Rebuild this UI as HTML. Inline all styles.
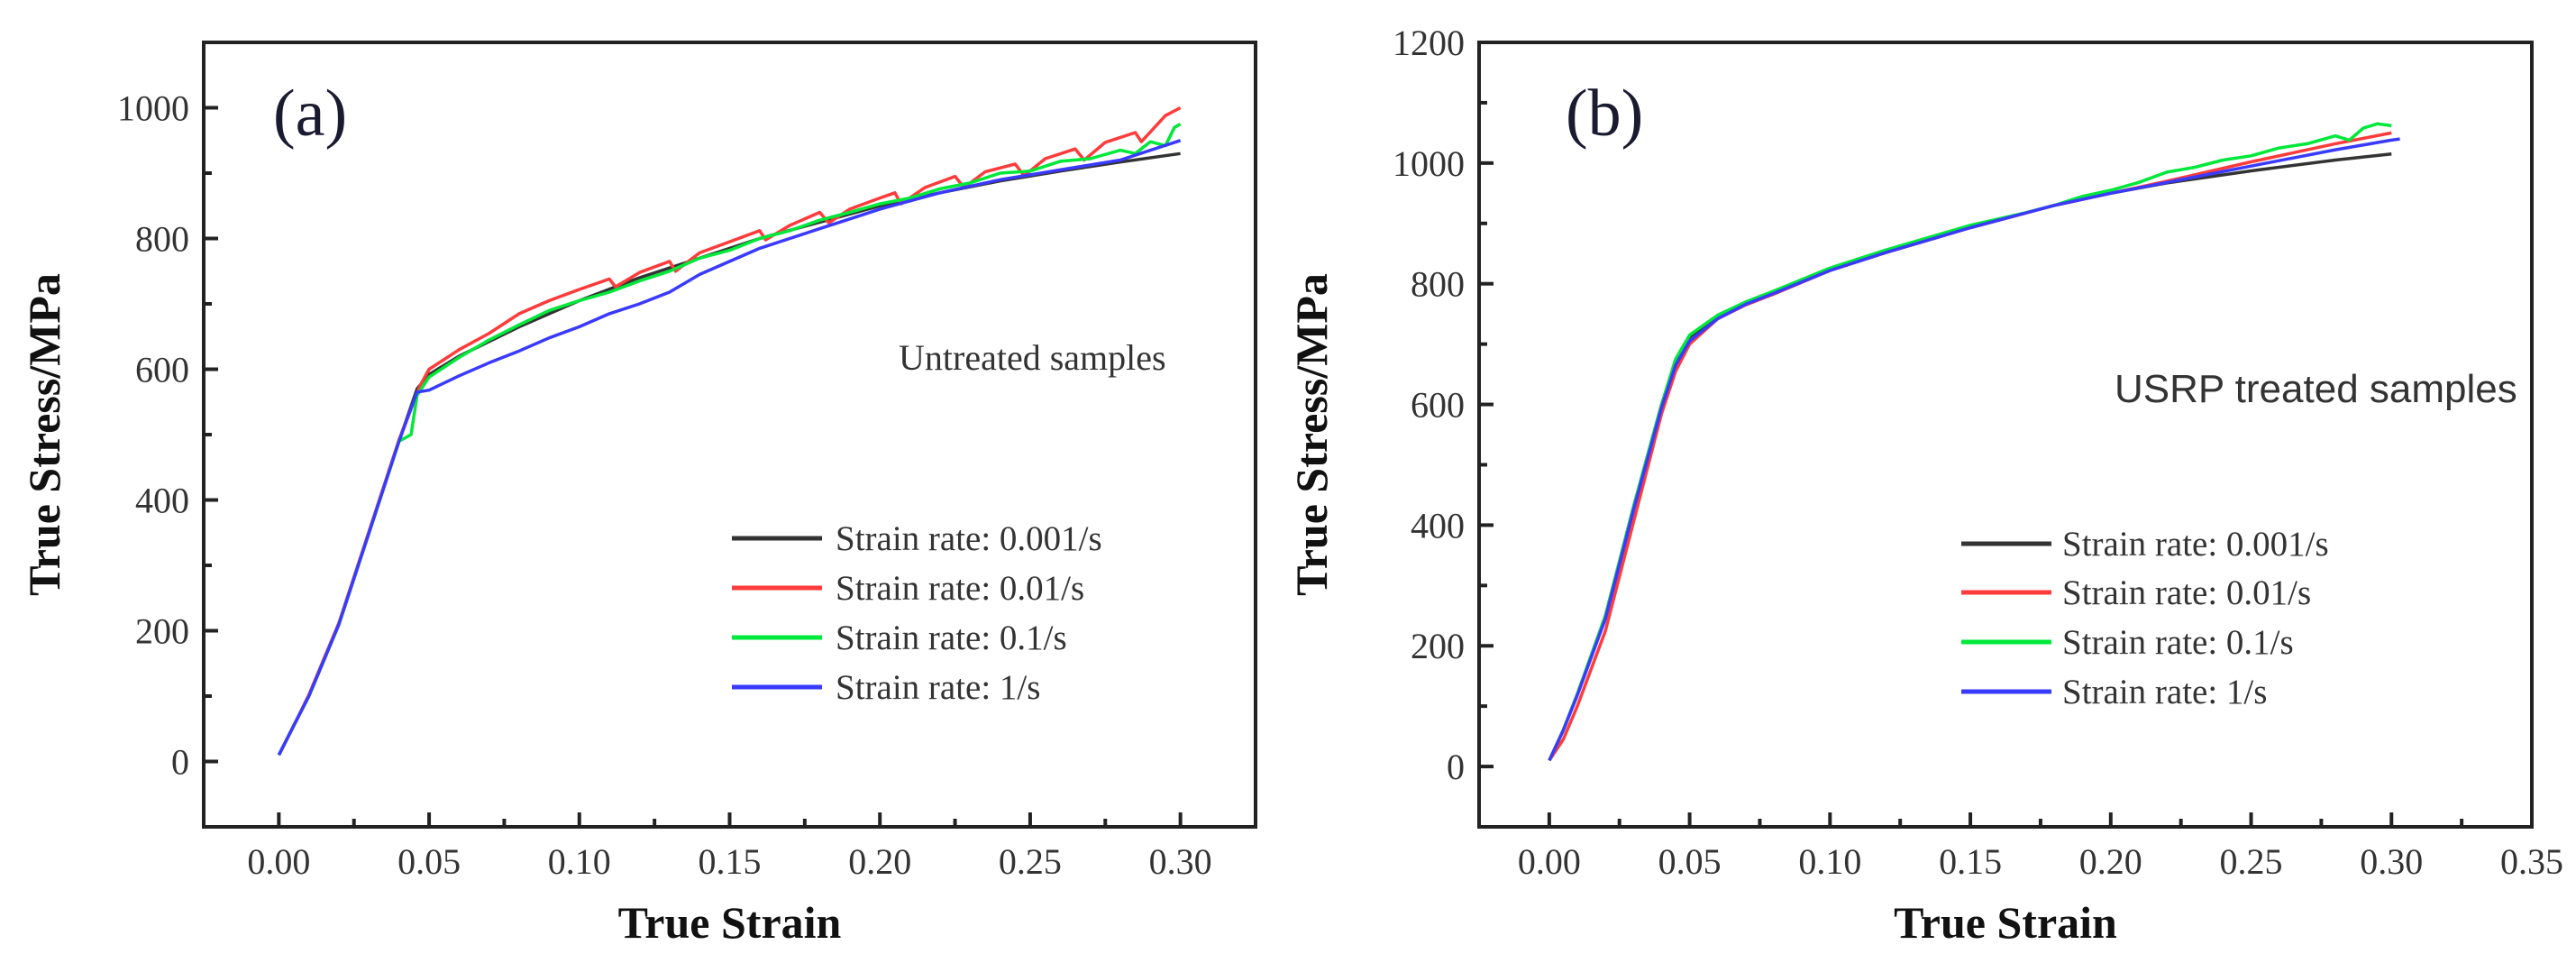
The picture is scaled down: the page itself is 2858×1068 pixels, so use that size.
<!DOCTYPE html>
<html><head><meta charset="utf-8"><style>
html,body{margin:0;padding:0;background:#fff;}
svg{display:block;}
</style></head><body>
<svg id="chart" width="2858" height="1068" viewBox="0 0 2858 1068" xmlns="http://www.w3.org/2000/svg"></svg>
<script>
// ---- Panel (a) data: untreated ----
const aBlackX=[0,0.005,0.01,0.02,0.03,0.04,0.046,0.05,0.06,0.08,0.10,0.12,0.14,0.16,0.18,0.20,0.22,0.24,0.26,0.28,0.30];
const aBlackY=[10,55,100,210,350,490,570,592,620,665,705,740,770,800,825,850,870,888,903,917,930];
const aRedX=[0,0.005,0.01,0.02,0.03,0.04,0.047,0.05,0.06,0.07,0.08,0.09,0.10,0.11,0.112,0.12,0.13,0.132,0.14,0.15,0.16,0.162,0.17,0.18,0.183,0.19,0.20,0.205,0.207,0.215,0.225,0.228,0.235,0.245,0.248,0.255,0.265,0.268,0.275,0.285,0.287,0.295,0.30];
const aRedY=[10,55,102,212,352,492,575,600,630,655,685,705,722,738,726,748,765,750,778,795,812,798,820,840,824,845,862,870,853,878,895,878,902,914,896,922,937,920,947,962,948,988,1000];
const aGreenX=[0,0.005,0.01,0.02,0.03,0.04,0.044,0.046,0.05,0.06,0.07,0.08,0.09,0.10,0.11,0.12,0.13,0.14,0.15,0.16,0.17,0.18,0.19,0.20,0.21,0.22,0.23,0.24,0.25,0.26,0.27,0.28,0.285,0.29,0.295,0.298,0.30];
const aGreenY=[10,55,100,210,350,490,500,560,588,618,645,668,690,705,718,735,750,770,782,800,812,828,840,853,862,876,885,900,903,918,922,935,930,948,942,970,975];
const aBlueX=[0,0.005,0.01,0.02,0.03,0.04,0.046,0.05,0.06,0.07,0.08,0.09,0.10,0.11,0.12,0.13,0.14,0.15,0.16,0.17,0.18,0.19,0.20,0.22,0.24,0.26,0.28,0.30];
const aBlueY=[10,55,100,210,350,490,565,568,590,610,628,648,665,685,700,718,745,765,785,800,815,830,845,870,890,905,920,950];
// ---- Panel (b) data: USRP treated ----
const bBlackX=[0,0.005,0.01,0.02,0.03,0.04,0.045,0.05,0.06,0.07,0.08,0.10,0.12,0.15,0.18,0.20,0.22,0.25,0.28,0.30];
const bBlackY=[10,60,120,250,430,600,670,712,745,768,785,822,852,893,930,950,967,987,1005,1015];
const bRedX=[0,0.005,0.01,0.02,0.03,0.04,0.045,0.05,0.06,0.07,0.08,0.10,0.12,0.15,0.18,0.20,0.22,0.25,0.28,0.30];
const bRedY=[10,45,100,225,405,585,655,700,742,765,783,822,852,893,930,950,970,1002,1032,1050];
const bGreenX=[0,0.005,0.01,0.02,0.03,0.04,0.045,0.05,0.06,0.07,0.08,0.10,0.12,0.15,0.17,0.18,0.19,0.20,0.21,0.22,0.23,0.24,0.25,0.26,0.27,0.28,0.285,0.29,0.295,0.30];
const bGreenY=[10,60,120,250,430,600,675,715,748,770,788,826,856,897,918,930,945,955,968,985,993,1005,1012,1025,1032,1045,1038,1058,1065,1062];
const bBlueX=[0,0.005,0.01,0.02,0.03,0.04,0.045,0.05,0.06,0.07,0.08,0.10,0.12,0.15,0.18,0.20,0.22,0.25,0.28,0.30,0.303];
const bBlueY=[10,60,118,245,425,595,665,705,742,766,784,822,852,893,930,950,968,995,1022,1038,1040];
const seriesLabels=["Strain rate: 0.001/s","Strain rate: 0.01/s","Strain rate: 0.1/s","Strain rate: 1/s"];
const aXTicks=[0,0.05,0.10,0.15,0.20,0.25,0.30];
const bXTicks=[0,0.05,0.10,0.15,0.20,0.25,0.30,0.35];
const aYTicks=[0,200,400,600,800,1000];
const bYTicks=[0,200,400,600,800,1000,1200];

const NS="http://www.w3.org/2000/svg";
const svg=document.getElementById('chart');
function mk(tag,attrs,parent){const e=document.createElementNS(NS,tag);for(const k in attrs)e.setAttribute(k,attrs[k]);(parent||svg).appendChild(e);return e;}
const colors=["#333333","#ff3b3b","#00e83a","#3a3aff"];

function panel(cfg){
  const g=mk('g',{});
  
  
  const X=v=>cfg.L+(v-cfg.xmin)/(cfg.xmax-cfg.xmin)*(cfg.R-cfg.L);
  const Y=v=>cfg.B-(v-cfg.ymin)/(cfg.ymax-cfg.ymin)*(cfg.B-cfg.T);
  cfg.series.forEach((s,i)=>{
    const d=s.x.map((v,j)=>(j?'L':'M')+X(v).toFixed(1)+' '+Y(s.y[j]).toFixed(1)).join(' ');
    const p=mk('path',{d:d,fill:'none',stroke:colors[i],'stroke-width':3.5,'stroke-linejoin':'round'},g);
    
    
  });
  const fr=mk('rect',{x:cfg.L,y:cfg.T,width:cfg.R-cfg.L,height:cfg.B-cfg.T,fill:'none',stroke:'#222','stroke-width':4},g);
  
  
  for(let k=0;k<cfg.xticks.length;k++){
    const v=cfg.xticks[k];
    mk('line',{x1:X(v),x2:X(v),y1:cfg.B,y2:cfg.B-16,stroke:'#222','stroke-width':4},g);
    const m=v+0.025;if(m<cfg.xmax)mk('line',{x1:X(m),x2:X(m),y1:cfg.B,y2:cfg.B-9,stroke:'#222','stroke-width':4},g);
    const t=mk('text',{x:X(v),y:cfg.B+52,'text-anchor':'middle','font-family':'Liberation Serif, serif','font-size':40,fill:'#333'},g);
    t.textContent=v.toFixed(2);
    
    
  }
  for(let k=0;k<cfg.yticks.length;k++){
    const v=cfg.yticks[k];
    mk('line',{x1:cfg.L,x2:cfg.L+16,y1:Y(v),y2:Y(v),stroke:'#222','stroke-width':4},g);
    const m=v+100;if(m<cfg.ymax)mk('line',{x1:cfg.L,x2:cfg.L+9,y1:Y(m),y2:Y(m),stroke:'#222','stroke-width':4},g);
    const t=mk('text',{x:cfg.L-16,y:Y(v)+14,'text-anchor':'end','font-family':'Liberation Serif, serif','font-size':40,fill:'#333'},g);
    t.textContent=String(v);
    
    
  }
  const xt=mk('text',{x:(cfg.L+cfg.R)/2,y:1040,'text-anchor':'middle','font-family':'Liberation Serif, serif','font-size':50,'font-weight':'bold',fill:'#111'},g);
  xt.textContent='True Strain';
  
  
  const yt=mk('text',{x:0,y:0,transform:`translate(${cfg.ytx},${(cfg.T+cfg.B)/2}) rotate(-90)`,'text-anchor':'middle','font-family':'Liberation Serif, serif','font-size':50,'font-weight':'bold',fill:'#111'},g);
  yt.textContent='True Stress/MPa';
  
  
  const pl=mk('text',{x:cfg.plx,y:150,'font-family':'Liberation Serif, serif','font-size':74,fill:'#1a1a30'},g);
  pl.textContent=cfg.label;
  
  
  const an=mk('text',{x:cfg.anx,y:cfg.any,'font-family':cfg.anFont,'font-size':cfg.anSize,fill:'#333'},g);
  an.textContent=cfg.anText;
  
  
  const lg=mk('g',{},g);
  
  
  seriesLabels.forEach((lab,i)=>{
    const y=cfg.legY[i];
    const e=mk('g',{},lg);
    
    
    mk('line',{x1:cfg.legL1,x2:cfg.legL2,y1:y,y2:y,stroke:colors[i],'stroke-width':5},e);
    const t=mk('text',{x:cfg.legT,y:y+13,'font-family':'Liberation Serif, serif','font-size':39,fill:'#333'},e);
    t.textContent=lab;
  });
}

panel({name:'panel-a-untreated',L:226,R:1393,T:47,B:917,xmin:-0.025,xmax:0.325,ymin:-100,ymax:1100,
  xticks:aXTicks,yticks:aYTicks,ytx:66,plx:303,label:'(a)',
  anx:997,any:410,anFont:'Liberation Serif, serif',anSize:40,anText:'Untreated samples',
  legY:[597,652,707,762],legL1:812,legL2:912,legT:927,
  series:[{x:aBlackX,y:aBlackY},{x:aRedX,y:aRedY},{x:aGreenX,y:aGreenY},{x:aBlueX,y:aBlueY}]});
panel({name:'panel-b-usrp-treated',L:1641,R:2809,T:47,B:917,xmin:-0.025,xmax:0.35,ymin:-100,ymax:1200,
  xticks:bXTicks,yticks:bYTicks,ytx:1472,plx:1737,label:'(b)',
  anx:2346,any:446,anFont:'Liberation Sans, sans-serif',anSize:44,anText:'USRP treated samples',
  legY:[603,657,712,767],legL1:2176,legL2:2276,legT:2288,
  series:[{x:bBlackX,y:bBlackY},{x:bRedX,y:bRedY},{x:bGreenX,y:bGreenY},{x:bBlueX,y:bBlueY}]});
</script>
</body></html>
